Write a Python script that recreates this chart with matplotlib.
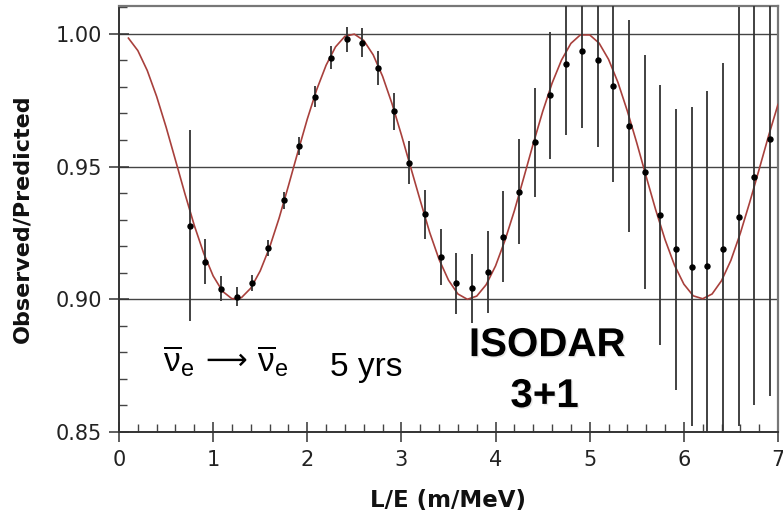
import matplotlib
matplotlib.use("Agg")
import matplotlib.pyplot as plt
import matplotlib.patheffects as pe
from matplotlib.ticker import MultipleLocator, FormatStrFormatter

# model curve (sterile oscillation)
curve_x = [0.1, 0.2, 0.3, 0.4, 0.5, 0.6, 0.7, 0.8, 0.9, 1.0,
           1.1, 1.2, 1.3, 1.4, 1.5, 1.6, 1.7, 1.8, 1.9, 2.0,
           2.1, 2.2, 2.3, 2.4, 2.5, 2.6, 2.7, 2.8, 2.9, 3.0,
           3.1, 3.2, 3.3, 3.4, 3.5, 3.6, 3.7, 3.8, 3.9, 4.0,
           4.1, 4.2, 4.3, 4.4, 4.5, 4.6, 4.7, 4.8, 4.9, 5.0,
           5.1, 5.2, 5.3, 5.4, 5.5, 5.6, 5.7, 5.8, 5.9, 6.0,
           6.1, 6.2, 6.3, 6.4, 6.5, 6.6, 6.7, 6.8, 6.9, 7.0]
curve_y = [0.9984, 0.9937, 0.9862, 0.9764, 0.9649, 0.9524, 0.9398, 0.9278, 0.9173, 0.9088,
           0.9030, 0.9002, 0.9006, 0.9042, 0.9107, 0.9196, 0.9305, 0.9428, 0.9555, 0.9679,
           0.9790, 0.9882, 0.9951, 0.9991, 0.9999, 0.9975, 0.9921, 0.9840, 0.9737, 0.9619,
           0.9495, 0.9372, 0.9252, 0.9150, 0.9072, 0.9020, 0.9000, 0.9012, 0.9055, 0.9126,
           0.9222, 0.9334, 0.9459, 0.9586, 0.9707, 0.9814, 0.9901, 0.9964, 0.9996, 0.9996,
           0.9965, 0.9904, 0.9817, 0.9709, 0.9589, 0.9462, 0.9338, 0.9225, 0.9129, 0.9057,
           0.9013, 0.9002, 0.9020, 0.9070, 0.9147, 0.9249, 0.9366, 0.9490, 0.9616, 0.9734]

# simulated data points
data_x = [0.75, 0.917, 1.083, 1.25, 1.417, 1.583, 1.75, 1.917, 2.083, 2.25,
          2.417, 2.583, 2.75, 2.917, 3.083, 3.25, 3.417, 3.583, 3.75, 3.917,
          4.083, 4.25, 4.417, 4.583, 4.75, 4.917, 5.083, 5.25, 5.417, 5.583,
          5.75, 5.917, 6.083, 6.25, 6.417, 6.583, 6.75, 6.917]
data_y = [0.9278, 0.9142, 0.9040, 0.9010, 0.9063, 0.9192, 0.9373, 0.9576, 0.9764, 0.9910,
          0.9980, 0.9967, 0.9870, 0.9708, 0.9514, 0.9320, 0.9159, 0.9060, 0.9041, 0.9103,
          0.9236, 0.9406, 0.9591, 0.9768, 0.9886, 0.9934, 0.9902, 0.9802, 0.9654, 0.9480,
          0.9317, 0.9188, 0.9123, 0.9125, 0.9191, 0.9311, 0.9460, 0.9604]
data_err = [0.036, 0.0086, 0.0048, 0.0037, 0.003, 0.003, 0.0032, 0.0034, 0.0038, 0.0043,
            0.0047, 0.0056, 0.0064, 0.0071, 0.0081, 0.0093, 0.0105, 0.0116, 0.013, 0.0154,
            0.0171, 0.0199, 0.0206, 0.024, 0.0266, 0.029, 0.033, 0.036, 0.040, 0.044,
            0.049, 0.053, 0.060, 0.066, 0.070, 0.079, 0.086, 0.097]

plt.rcParams["font.family"] = ["DejaVu Sans"]
plt.rcParams["mathtext.fontset"] = "custom"
plt.rcParams["mathtext.rm"] = "Liberation Sans"
plt.rcParams["mathtext.it"] = "Liberation Sans:italic"
plt.rcParams["mathtext.bf"] = "Liberation Sans:bold"

fig = plt.figure(figsize=(7.83, 5.15), dpi=100)
ax = fig.add_axes([119 / 783, 1 - 432 / 515, 659 / 783, 426 / 515])

ax.plot(curve_x, curve_y, color="#a8403c", lw=1.2, zorder=3)
ax.errorbar(data_x, data_y, yerr=data_err, fmt="o", color="black", ms=3.6,
            ecolor="#333333", elinewidth=1.3, capsize=0, zorder=4)

ax.set_xlim(0, 7)
ax.set_ylim(0.85, 1.0105)
ax.xaxis.set_major_locator(MultipleLocator(1))
ax.xaxis.set_minor_locator(MultipleLocator(0.2))
ax.yaxis.set_major_locator(MultipleLocator(0.05))
ax.yaxis.set_minor_locator(MultipleLocator(0.01))
ax.yaxis.set_major_formatter(FormatStrFormatter("%.2f"))
ax.tick_params(which="major", direction="inout", length=14, width=1.1,
               color="#333333", labelsize=15, labelcolor="#222222")
ax.tick_params(axis="x", which="major", pad=6)
ax.tick_params(axis="y", which="major", pad=5)
ax.tick_params(which="minor", direction="in", length=6, width=1.0, color="#444444")

ax.yaxis.grid(True, which="major", color="#444444", lw=1.0)
ax.set_axisbelow(True)
for side in ["left", "bottom"]:
    ax.spines[side].set_color("#333333")
    ax.spines[side].set_linewidth(1.4)
for side in ["top", "right"]:
    ax.spines[side].set_color("#777777")
    ax.spines[side].set_linewidth(1.6)

ax.set_xlabel("L/E (m/MeV)", fontsize=16.5, fontweight="bold", color="#111111")
ax.set_ylabel("Observed/Predicted", fontsize=16, fontweight="bold", color="#111111")
ax.xaxis.set_label_coords(0.5, -0.133)
ax.yaxis.set_label_coords(-0.132, 0.5)

shadow = [pe.withSimplePatchShadow(offset=(1, -1), shadow_rgbFace="#bbbbbb", alpha=0.35)]
ax.text(4.55, 0.8786, "ISODAR", fontsize=29, fontweight="bold", family="Liberation Sans",
        ha="center", va="baseline", path_effects=shadow)
ax.text(4.52, 0.8594, "3+1", fontsize=29, fontweight="bold", family="Liberation Sans",
        ha="center", va="baseline", path_effects=shadow)

nubar = r"$\overline{\mathrm{\nu}}_{\mathrm{e}}$"
ax.text(0.47, 0.8726, nubar, fontsize=24, ha="left", va="baseline")
ax.text(1.142, 0.8767, "\u27f6", fontsize=21, family="DejaVu Sans", ha="center", va="center")
ax.text(1.47, 0.8726, nubar, fontsize=24, ha="left", va="baseline")
ax.text(2.24, 0.8711, "5 yrs", fontsize=24, family="Liberation Sans", ha="left", va="baseline")

fig.savefig("out.png", dpi=100)
